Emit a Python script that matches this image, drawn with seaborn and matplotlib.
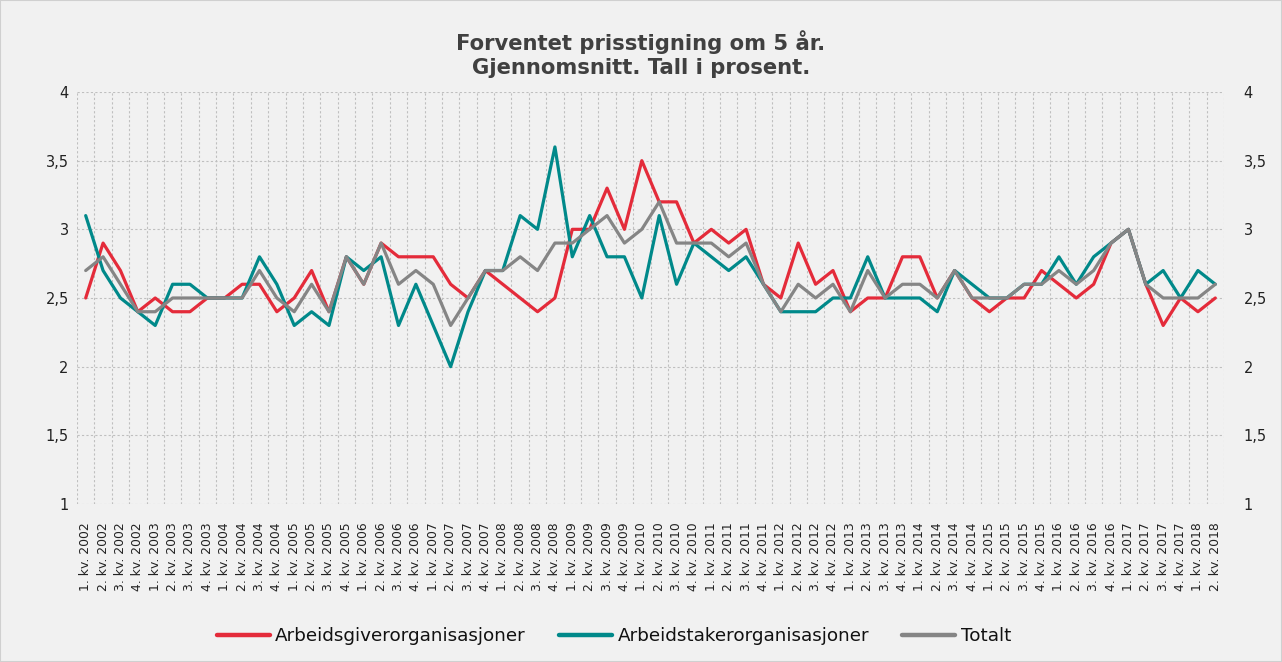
import matplotlib
matplotlib.use("Agg")
import matplotlib.pyplot as plt
import seaborn as sns
import pandas as pd
from matplotlib.ticker import FuncFormatter
from matplotlib.lines import Line2D
from matplotlib.patches import Rectangle

years = list(range(2002, 2019))
quarters = [f"{q}. kv. {y}" for y in years for q in (1, 2, 3, 4)][:66]

arbeidsgiver = [2.5, 2.9, 2.7, 2.4, 2.5, 2.4, 2.4, 2.5, 2.5, 2.6,
                2.6, 2.4, 2.5, 2.7, 2.4, 2.8, 2.6, 2.9, 2.8, 2.8,
                2.8, 2.6, 2.5, 2.7, 2.6, 2.5, 2.4, 2.5, 3.0, 3.0,
                3.3, 3.0, 3.5, 3.2, 3.2, 2.9, 3.0, 2.9, 3.0, 2.6,
                2.5, 2.9, 2.6, 2.7, 2.4, 2.5, 2.5, 2.8, 2.8, 2.5,
                2.7, 2.5, 2.4, 2.5, 2.5, 2.7, 2.6, 2.5, 2.6, 2.9,
                3.0, 2.6, 2.3, 2.5, 2.4, 2.5]
arbeidstaker = [3.1, 2.7, 2.5, 2.4, 2.3, 2.6, 2.6, 2.5, 2.5, 2.5,
                2.8, 2.6, 2.3, 2.4, 2.3, 2.8, 2.7, 2.8, 2.3, 2.6,
                2.3, 2.0, 2.4, 2.7, 2.7, 3.1, 3.0, 3.6, 2.8, 3.1,
                2.8, 2.8, 2.5, 3.1, 2.6, 2.9, 2.8, 2.7, 2.8, 2.6,
                2.4, 2.4, 2.4, 2.5, 2.5, 2.8, 2.5, 2.5, 2.5, 2.4,
                2.7, 2.6, 2.5, 2.5, 2.6, 2.6, 2.8, 2.6, 2.8, 2.9,
                3.0, 2.6, 2.7, 2.5, 2.7, 2.6]
totalt = [2.7, 2.8, 2.6, 2.4, 2.4, 2.5, 2.5, 2.5, 2.5, 2.5,
          2.7, 2.5, 2.4, 2.6, 2.4, 2.8, 2.6, 2.9, 2.6, 2.7,
          2.6, 2.3, 2.5, 2.7, 2.7, 2.8, 2.7, 2.9, 2.9, 3.0,
          3.1, 2.9, 3.0, 3.2, 2.9, 2.9, 2.9, 2.8, 2.9, 2.6,
          2.4, 2.6, 2.5, 2.6, 2.4, 2.7, 2.5, 2.6, 2.6, 2.5,
          2.7, 2.5, 2.5, 2.5, 2.6, 2.6, 2.7, 2.6, 2.7, 2.9,
          3.0, 2.6, 2.5, 2.5, 2.5, 2.6]

series_names = ["Arbeidsgiverorganisasjoner", "Arbeidstakerorganisasjoner", "Totalt"]
colors = ["#E42B3A", "#00898A", "#858585"]
title = "Forventet prisstigning om 5 år.\nGjennomsnitt. Tall i prosent."
y_ticks = [1, 1.5, 2, 2.5, 3, 3.5, 4]

frames = []
for name, vals in zip(series_names, [arbeidsgiver, arbeidstaker, totalt]):
    frames.append(pd.DataFrame({"Kvartal": quarters, "Verdi": vals, "Serie": name}))
df = pd.concat(frames, ignore_index=True)
df["pos"] = df.groupby("Serie").cumcount()

sns.set_style("white")
plt.rcParams["font.family"] = ["DejaVu Sans"]
bg = "#F1F1F1"

fig = plt.figure(figsize=(12.82, 6.62), dpi=100, facecolor=bg)
ax = fig.add_axes([77 / 1282, 1 - 504 / 662, (1224 - 77) / 1282, (504 - 92) / 662])
ax.set_facecolor(bg)

sns.lineplot(data=df, x="pos", y="Verdi", hue="Serie", palette=dict(zip(series_names, colors)),
             hue_order=series_names, linewidth=2.3, ax=ax, legend=False, sort=False)

ax.set_xlim(-0.5, len(quarters) - 0.5)
ax.set_ylim(1, 4)
ax.set_xticks(range(len(quarters)))
ax.set_xticklabels(quarters, rotation=90, fontsize=8.9, color="#222222")
ax.set_xticks([i - 0.5 for i in range(len(quarters) + 1)], minor=True)
ax.set_yticks(y_ticks)
fmt = FuncFormatter(lambda v, p: (f"{v:g}").replace(".", ","))
ax.yaxis.set_major_formatter(fmt)
ax.tick_params(axis="both", which="both", length=0)
ax.tick_params(axis="y", labelsize=10.5, colors="#222222", pad=6)
ax.tick_params(axis="x", pad=13)
ax.set_xlabel("")
ax.set_ylabel("")
ax.grid(True, axis="y", which="major", color="#BFBFBF", linestyle=(0, (2, 2)), linewidth=0.8)
ax.grid(True, axis="x", which="minor", color="#BFBFBF", linestyle=(0, (2, 2)), linewidth=0.8)
ax.grid(False, axis="x", which="major")
for s in ax.spines.values():
    s.set_visible(False)
ax.set_axisbelow(True)

ax2 = ax.twinx()
ax2.set_ylim(1, 4)
ax2.set_yticks(y_ticks)
ax2.yaxis.set_major_formatter(fmt)
ax2.tick_params(axis="y", length=0, labelsize=10.5, colors="#222222", pad=14)
for s in ax2.spines.values():
    s.set_visible(False)

fig.text(0.5, 1 - 54 / 662, title, ha="center", va="center", fontsize=15.2,
         fontweight="bold", color="#404040", linespacing=1.3)

handles = [Line2D([0], [0], color=c, lw=3.2) for c in colors]
leg = fig.legend(handles, series_names, loc="center", bbox_to_anchor=(614 / 1282, 1 - 636 / 662),
                 ncol=3, frameon=False, handlelength=2.9, handletextpad=0.3, columnspacing=1.8,
                 prop={"family": ["DejaVu Sans"], "size": 13.2})
for t in leg.get_texts():
    t.set_color("#111111")

fig.patches.append(Rectangle((0, 0), 1, 1, transform=fig.transFigure, fill=False,
                             edgecolor="#D0D0D0", linewidth=1.5))

fig.savefig("out.png", dpi=100, facecolor=bg)
